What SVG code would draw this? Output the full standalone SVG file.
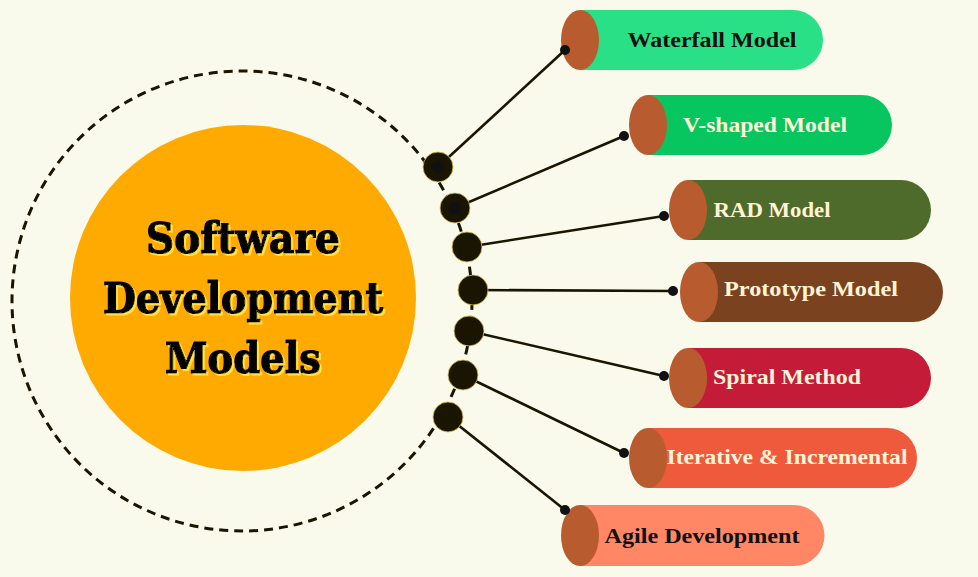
<svg xmlns="http://www.w3.org/2000/svg" width="978" height="577" viewBox="0 0 978 577">
  <defs>
    <!-- yellow drop shadow behind the hub title -->
    <filter id="glow" x="-10%" y="-20%" width="120%" height="150%">
      <feOffset in="SourceAlpha" dx="2" dy="2" result="off"/>
      <feFlood flood-color="#ffe14a"/>
      <feComposite in2="off" operator="in" result="shadow"/>
      <feMerge>
        <feMergeNode in="shadow"/>
        <feMergeNode in="SourceGraphic"/>
      </feMerge>
    </filter>
  </defs>
  <style>
    .hub-title { font-family: "DejaVu Serif", "Liberation Serif", serif; font-weight: 900; font-size: 42px; text-anchor: middle; fill: #000; stroke: #000; stroke-width: 1.2; }
    .label { font-family: "Liberation Serif", "DejaVu Serif", serif; font-weight: bold; font-size: 21px; text-anchor: middle; }
    .cap { fill: #b85c30; }
    .knob { fill: #1a1500; stroke: #d9c44e; stroke-width: 0.8; }
    .wire { stroke: #1a1500; stroke-width: 2.6; fill: none; }
    .tip { fill: #111; }
  </style>

  <rect width="978" height="577" fill="#f9f9ec"/>

  <!-- hub -->
  <g id="hub">
    <circle cx="242" cy="301" r="230" fill="none" stroke="#1a1500" stroke-width="3" stroke-dasharray="9 6"/>
    <circle cx="243" cy="298" r="173" fill="#ffaa00"/>
    <g class="hub-title" filter="url(#glow)">
      <text x="243" y="253" textLength="194" lengthAdjust="spacingAndGlyphs">Software</text>
      <text x="243" y="313" textLength="280" lengthAdjust="spacingAndGlyphs">Development</text>
      <text x="243" y="373" textLength="156" lengthAdjust="spacingAndGlyphs">Models</text>
    </g>
  </g>

  <!-- connectors -->
  <g id="connectors">
    <line class="wire" x1="438" y1="167" x2="565" y2="50"/>
    <line class="wire" x1="455" y1="208" x2="624" y2="136"/>
    <line class="wire" x1="467" y1="247" x2="664" y2="216"/>
    <line class="wire" x1="473" y1="290" x2="673" y2="291"/>
    <line class="wire" x1="469" y1="331" x2="664" y2="376"/>
    <line class="wire" x1="463" y1="375" x2="624" y2="453"/>
    <line class="wire" x1="448" y1="417" x2="565" y2="510"/>
    <circle class="knob" cx="438" cy="167" r="15"/>
    <circle class="knob" cx="455" cy="208" r="15"/>
    <circle class="knob" cx="467" cy="247" r="15"/>
    <circle class="knob" cx="473" cy="290" r="15"/>
    <circle class="knob" cx="469" cy="331" r="15"/>
    <circle class="knob" cx="463" cy="375" r="15"/>
    <circle class="knob" cx="448" cy="417" r="15"/>
    <circle class="tip" cx="438" cy="167" r="6"/>
    <circle class="tip" cx="455" cy="208" r="6"/>
  </g>

  <!-- model cylinders -->
  <g id="waterfall">
    <path d="M580 10 H793 A30 30 0 0 1 793 70 H580 Z" fill="#2ae087"/>
    <ellipse class="cap" cx="580" cy="40" rx="19" ry="30"/>
    <circle class="tip" cx="565" cy="50" r="5"/>
    <text class="label" x="712" y="47" fill="#111" textLength="169" lengthAdjust="spacingAndGlyphs">Waterfall Model</text>
  </g>

  <g id="v-shaped">
    <path d="M648 95 H862 A30 30 0 0 1 862 155 H648 Z" fill="#07c65f"/>
    <ellipse class="cap" cx="648" cy="125" rx="19" ry="30"/>
    <circle class="tip" cx="624" cy="136" r="5"/>
    <text class="label" x="765" y="132" fill="#fff4d6" textLength="164" lengthAdjust="spacingAndGlyphs">V-shaped Model</text>
  </g>

  <g id="rad">
    <path d="M688 180 H901 A30 30 0 0 1 901 240 H688 Z" fill="#4e6b2b"/>
    <ellipse class="cap" cx="688" cy="210" rx="19" ry="30"/>
    <circle class="tip" cx="664" cy="216" r="5"/>
    <text class="label" x="772" y="217" fill="#fff4d6" textLength="117" lengthAdjust="spacingAndGlyphs">RAD Model</text>
  </g>

  <g id="prototype">
    <path d="M699 262 H913 A30 30 0 0 1 913 322 H699 Z" fill="#7b4220"/>
    <ellipse class="cap" cx="699" cy="292" rx="19" ry="30"/>
    <circle class="tip" cx="673" cy="291" r="5"/>
    <text class="label" x="811" y="296" fill="#fff4d6" textLength="174" lengthAdjust="spacingAndGlyphs">Prototype Model</text>
  </g>

  <g id="spiral">
    <path d="M688 348 H901 A30 30 0 0 1 901 408 H688 Z" fill="#c41c38"/>
    <ellipse class="cap" cx="688" cy="378" rx="19" ry="30"/>
    <circle class="tip" cx="664" cy="376" r="5"/>
    <text class="label" x="787" y="384" fill="#fff4d6" textLength="148" lengthAdjust="spacingAndGlyphs">Spiral Method</text>
  </g>

  <g id="iterative">
    <path d="M648 428 H887 A30 30 0 0 1 887 488 H648 Z" fill="#f05a3c"/>
    <ellipse class="cap" cx="648" cy="458" rx="19" ry="30"/>
    <circle class="tip" cx="624" cy="453" r="5"/>
    <text class="label" x="787" y="464" fill="#fff4d6" textLength="241" lengthAdjust="spacingAndGlyphs">Iterative &amp; Incremental</text>
  </g>

  <g id="agile">
    <path d="M580 505 H794 A30.5 30.5 0 0 1 794 566 H580 Z" fill="#ff8766"/>
    <ellipse class="cap" cx="580" cy="535.5" rx="19" ry="30.5"/>
    <circle class="tip" cx="565" cy="510" r="5"/>
    <text class="label" x="702" y="543" fill="#111" textLength="195" lengthAdjust="spacingAndGlyphs">Agile Development</text>
  </g>
</svg>
